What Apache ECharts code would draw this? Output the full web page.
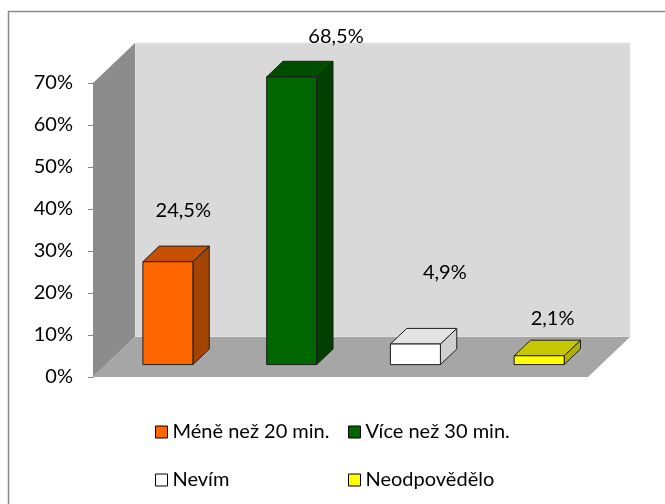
<!DOCTYPE html>
<html><head><meta charset="utf-8">
<script src="https://cdn.jsdelivr.net/npm/echarts@6/dist/echarts.min.js"></script>
<style>html,body{margin:0;padding:0;background:#fff}#c{width:665px;height:504px}</style>
</head><body><div id="c"></div>
<script>
// ---- data ----
const categories = ['Méně než 20 min.', 'Více než 30 min.', 'Nevím', 'Neodpovědělo'];
const values = [24.5, 68.5, 4.9, 2.1];
const valueLabels = ['24,5%', '68,5%', '4,9%', '2,1%'];
const yMin = 0, yMax = 70, yStep = 10;

// ---- styles ----
const FONT = 'Lato';
const FS = 20;
const faceColors = [
  {front:'#ff6600', top:'#c65000', side:'#a54300'},
  {front:'#006600', top:'#004f00', side:'#003f00'},
  {front:'#ffffff', top:'#e3e3e3', side:'#cfcfcf'},
  {front:'#ffff00', top:'#c8c800', side:'#b0b000'}
];
const labelNudge = [[-1,-36],[28,-25],[13,-56],[-3,-22]];
const DX = 42, DY = 40;     // full depth of the 3-D box
const F1 = 0.31, F2 = 0.70; // bar front/back depth fractions
const BAR_FRAC = 0.404;
const EDGE = '#1e1e1e';

function renderWalls(params, api){
  const c = params.coordSys;
  const x = c.x, y = c.y, w = c.width, h = c.height;
  return {type:'group', silent:true, children:[
    {type:'rect', shape:{x:x+DX, y:y-DY, width:w, height:h}, style:{fill:'#d9d9d9', stroke:'#e6e6e6', lineWidth:1}},
    {type:'polygon', shape:{points:[[x,y],[x+DX,y-DY],[x+DX,y+h-DY],[x,y+h]]}, style:{fill:'#8c8c8c'}},
    {type:'polygon', shape:{points:[[x,y+h],[x+DX,y+h-DY],[x+w+DX,y+h-DY],[x+w,y+h]]}, style:{fill:'#a6a6a6'}}
  ]};
}

function makeRender(i){
  return function(params, api){
    const idx = api.value(0), val = api.value(1);
    const top = api.coord([idx, val]);
    const base = api.coord([idx, 0]);
    const band = api.size([1, 0])[0];
    const w = band * BAR_FRAC;
    const x0 = top[0] - w/2 + DX*F1, x1 = x0 + w;
    const yb = base[1] - DY*F1, yt = top[1] - DY*F1;
    const ddx = DX*(F2-F1), ddy = DY*(F2-F1);
    const col = faceColors[i];
    const es = {stroke:EDGE, lineWidth:1, lineJoin:'round'};
    return {type:'group', children:[
      {type:'polygon', shape:{points:[[x1,yt],[x1+ddx,yt-ddy],[x1+ddx,yb-ddy],[x1,yb]]}, style:Object.assign({fill:col.side}, es)},
      {type:'polygon', shape:{points:[[x0,yt],[x1,yt],[x1+ddx,yt-ddy],[x0+ddx,yt-ddy]]}, style:Object.assign({fill:col.top}, es)},
      {type:'rect', shape:{x:x0, y:yt, width:w, height:yb-yt}, style:Object.assign({fill:col.front}, es)},
      {type:'text', x:(x0+x1)/2 + ddx + labelNudge[i][0], y:yt - ddy + labelNudge[i][1],
        style:{text:valueLabels[i], fill:'#000', font:FS+'px '+FONT, align:'center', verticalAlign:'middle'}}
    ]};
  };
}

const series = [{
  type:'custom', name:'walls', silent:true, z:1,
  renderItem: renderWalls, data:[[0, 0]], clip:false
}];
categories.forEach(function(name, i){
  series.push({
    type:'custom', name:name, z:3, clip:false,
    itemStyle:{color:faceColors[i].front},
    renderItem: makeRender(i),
    data:[[i, values[i]]]
  });
});

const legendBase = {
  orient:'horizontal', padding:0, icon:'rect', itemWidth:12, itemHeight:12,
  itemStyle:{borderColor:'#000', borderWidth:1},
  textStyle:{fontFamily:FONT, fontSize:FS, color:'#000', lineHeight:24},
  selectedMode:false
};
const legendPos = [[155,420],[348,420],[155,468],[348,468]];
const legends = categories.map(function(name, i){
  return Object.assign({}, legendBase, {data:[name], left:legendPos[i][0], top:legendPos[i][1]});
});

const chart = echarts.init(document.getElementById('c'), null, {renderer:'canvas'});
chart.setOption({
  animation:false,
  backgroundColor:'#fff',
  grid:{left:93, right:77, top:83, bottom:127, containLabel:false},
  xAxis:{type:'category', data:categories, show:false, boundaryGap:true},
  yAxis:{type:'value', min:yMin, max:yMax, interval:yStep,
    axisLine:{show:true, lineStyle:{color:'#868686', width:1}},
    axisTick:{show:true, length:5, lineStyle:{color:'#868686'}},
    splitLine:{show:false},
    axisLabel:{formatter:'{value}%', color:'#000', fontFamily:FONT, fontSize:FS, margin:20}
  },
  legend: legends,
  graphic:[{type:'rect', silent:true, shape:{x:8.5, y:11.5, width:800, height:700},
    style:{fill:'none', stroke:'#8a8a8a', lineWidth:1.5}, z:100}],
  series: series
});
</script></body></html>
